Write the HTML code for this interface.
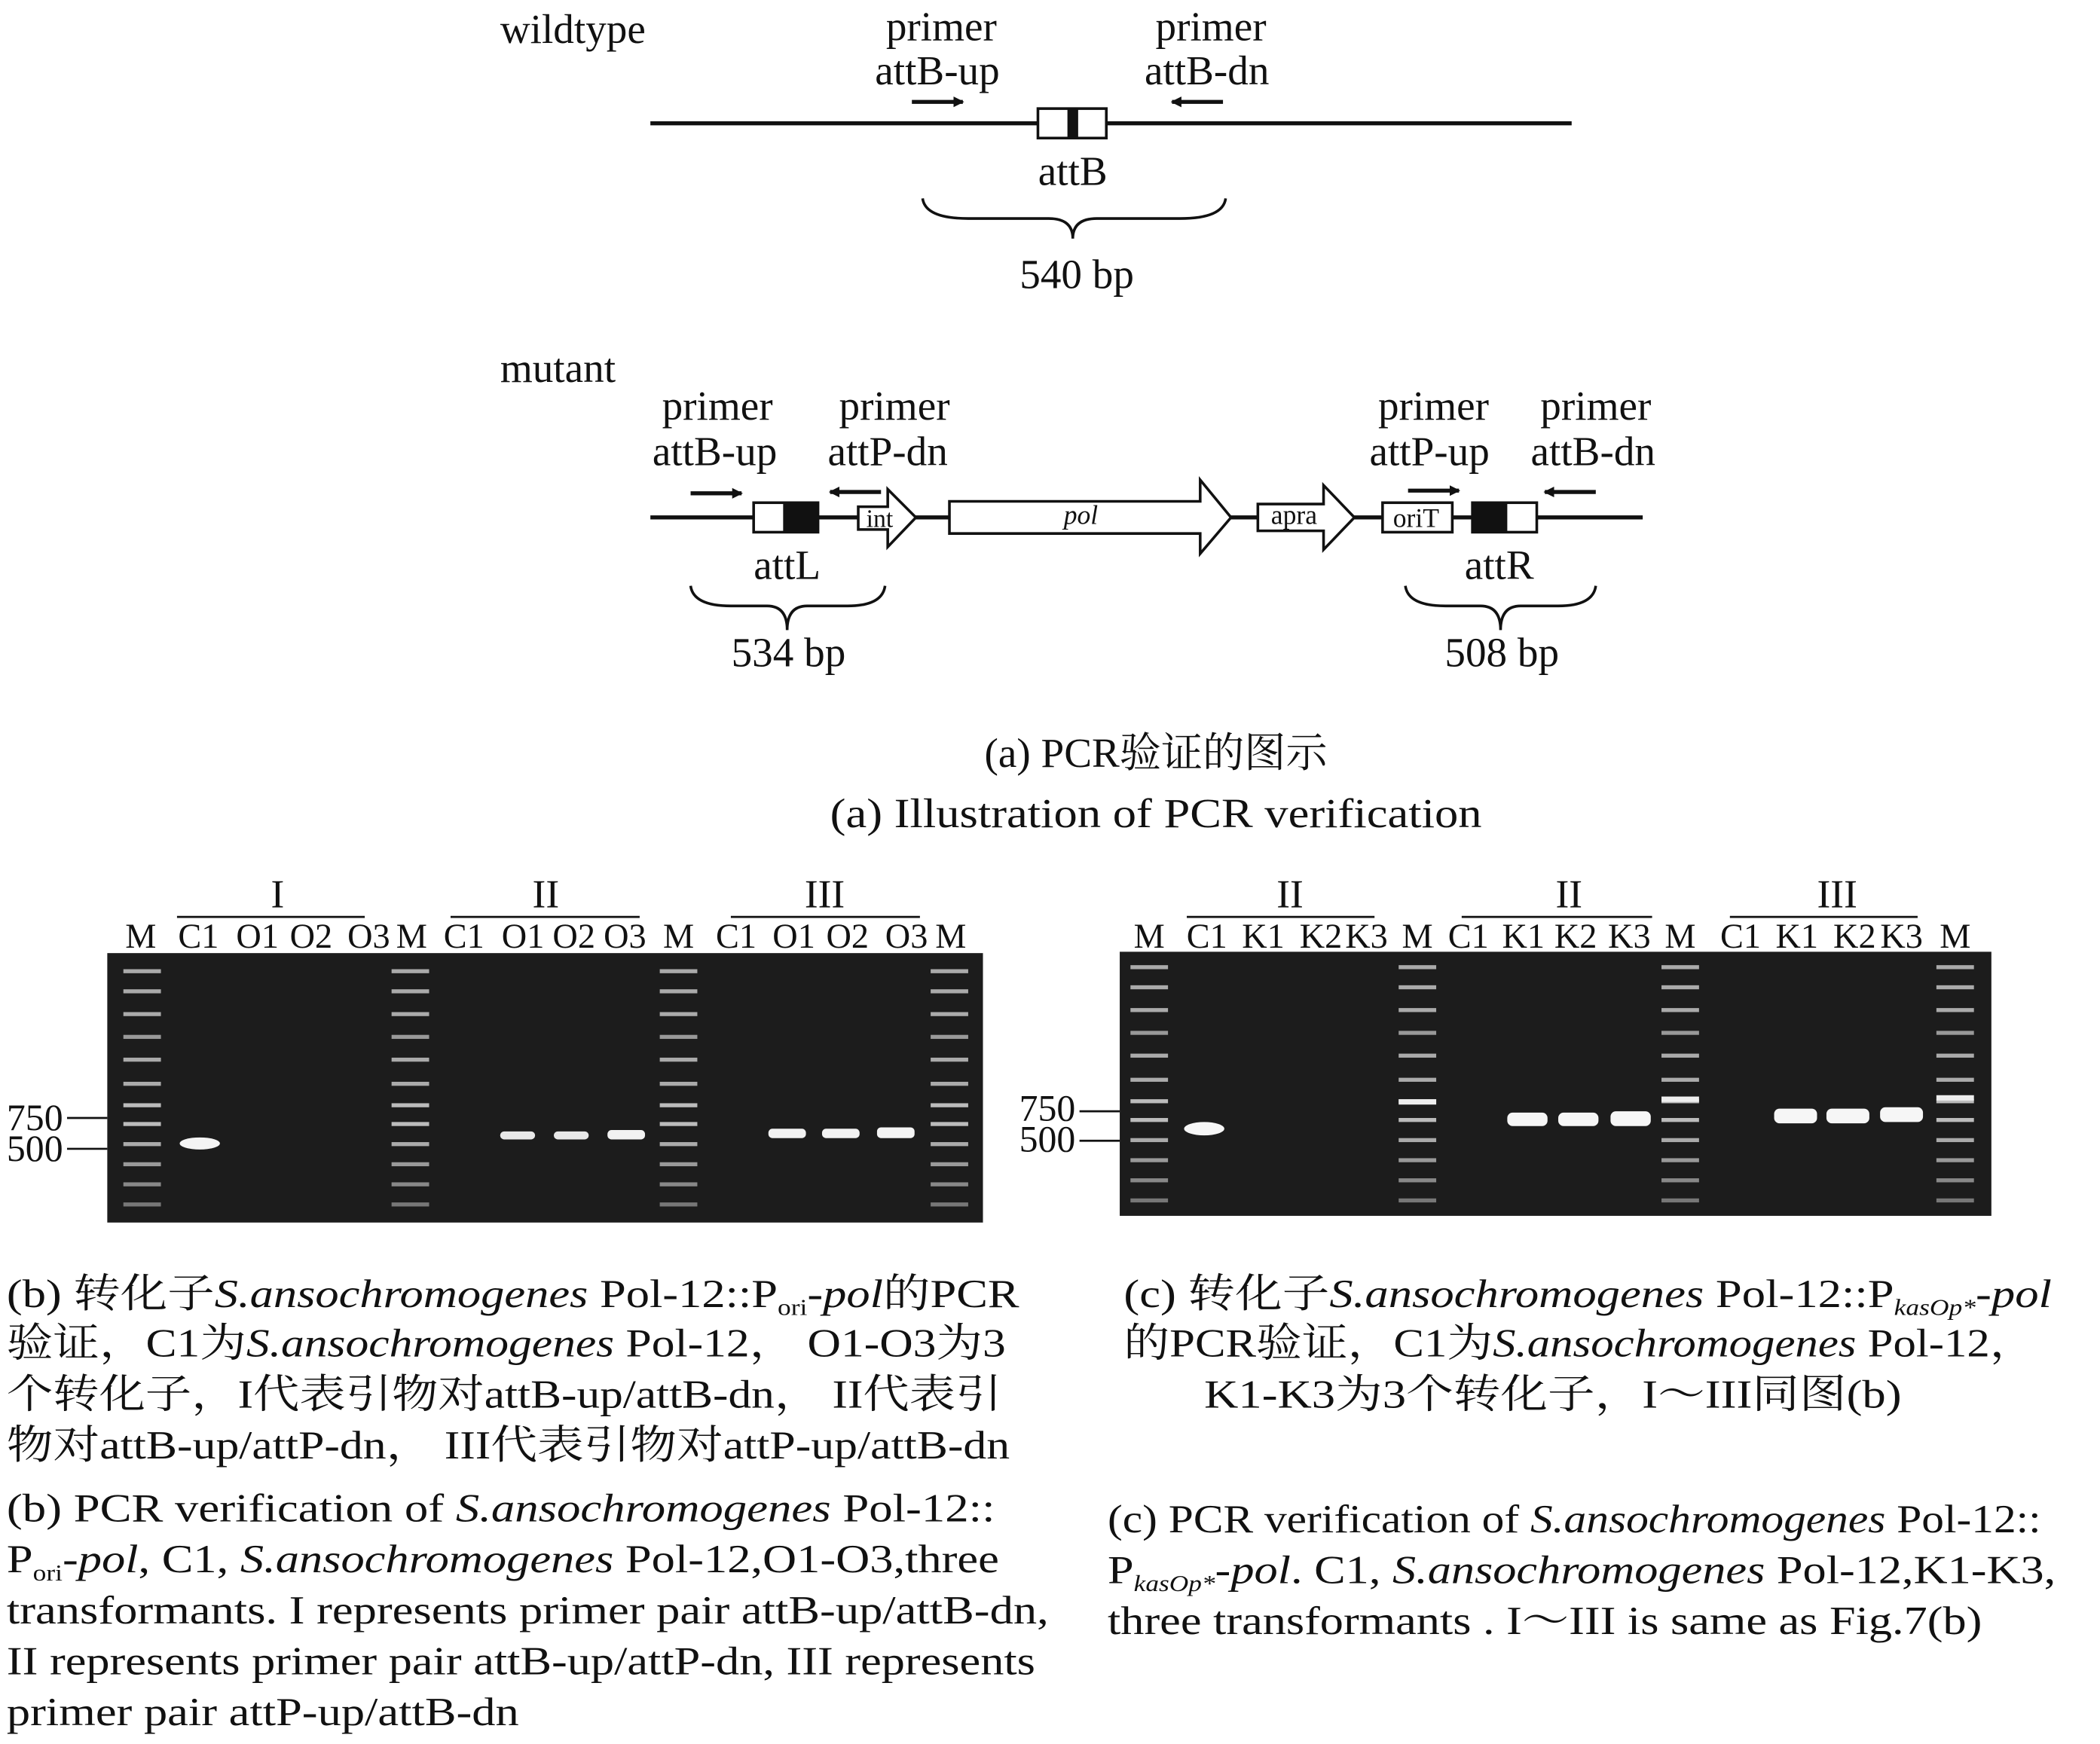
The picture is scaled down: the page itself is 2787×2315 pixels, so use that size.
<!DOCTYPE html>
<html><head><meta charset="utf-8"><style>
html,body{margin:0;padding:0;background:#fff;}
svg{display:block;}
text{font-family:"Liberation Serif","Noto Serif CJK SC","Noto Sans CJK SC",serif;fill:#111;}
</style></head><body>
<svg width="2787" height="2315" viewBox="0 0 1566 1301" preserveAspectRatio="none" xmlns="http://www.w3.org/2000/svg">
<defs>
<g id="lad">
<rect x="-14" y="12" width="28" height="3" fill="#aaa"/>
<rect x="-14" y="27" width="28" height="3" fill="#aaa"/>
<rect x="-14" y="44" width="28" height="3" fill="#aaa"/>
<rect x="-14" y="61" width="28" height="3" fill="#999"/>
<rect x="-14" y="78" width="28" height="3" fill="#aaa"/>
<rect x="-14" y="96" width="28" height="3" fill="#aaa"/>
<rect x="-14" y="112" width="28" height="3" fill="#bbb"/>
<rect x="-14" y="126" width="28" height="3" fill="#bbb"/>
<rect x="-14" y="141" width="28" height="3" fill="#aaa"/>
<rect x="-14" y="156" width="28" height="3" fill="#999"/>
<rect x="-14" y="171" width="28" height="3" fill="#888"/>
<rect x="-14" y="186" width="28" height="3" fill="#777"/>
</g>
<marker id="ah" markerWidth="8" markerHeight="8" refX="7" refY="4" orient="auto" markerUnits="userSpaceOnUse"><path d="M0,0 L8,4 L0,8 z" fill="#111"/></marker>
</defs>
<g font-size="31">
<text x="373" y="32">wildtype</text>
<text x="702" y="30" text-anchor="middle">primer</text>
<text x="699" y="63" text-anchor="middle">attB-up</text>
<text x="903" y="30" text-anchor="middle">primer</text>
<text x="900" y="63" text-anchor="middle">attB-dn</text>
</g>
<g stroke="#111" stroke-width="3" fill="none">
<line x1="680" y1="76" x2="718" y2="76" marker-end="url(#ah)"/>
<line x1="912" y1="76" x2="874" y2="76" marker-end="url(#ah)"/>
<line x1="485" y1="92" x2="1172" y2="92"/>
</g>
<rect x="774" y="81" width="51" height="22" fill="#fff" stroke="#111" stroke-width="2"/>
<rect x="796" y="81" width="8" height="22" fill="#111"/>
<text x="800" y="138" font-size="31" text-anchor="middle">attB</text>
<path d="M688,148 Q690,163 722,163 L782,163 Q800,163 800,178 Q800,163 818,163 L880,163 Q912,163 914,148" fill="none" stroke="#111" stroke-width="2"/>
<text x="803" y="215" font-size="31" text-anchor="middle">540 bp</text>

<g font-size="31">
<text x="373" y="285">mutant</text>
<text x="535" y="313" text-anchor="middle">primer</text>
<text x="533" y="347" text-anchor="middle">attB-up</text>
<text x="667" y="313" text-anchor="middle">primer</text>
<text x="662" y="347" text-anchor="middle">attP-dn</text>
<text x="1069" y="313" text-anchor="middle">primer</text>
<text x="1066" y="347" text-anchor="middle">attP-up</text>
<text x="1190" y="313" text-anchor="middle">primer</text>
<text x="1188" y="347" text-anchor="middle">attB-dn</text>
</g>
<g stroke="#111" stroke-width="3" fill="none">
<line x1="515" y1="368" x2="553" y2="368" marker-end="url(#ah)"/>
<line x1="657" y1="367" x2="619" y2="367" marker-end="url(#ah)"/>
<line x1="1050" y1="366" x2="1088" y2="366" marker-end="url(#ah)"/>
<line x1="1190" y1="367" x2="1152" y2="367" marker-end="url(#ah)"/>
<line x1="485" y1="386" x2="1225" y2="386"/>
</g>
<rect x="562" y="375" width="48" height="22" fill="#fff" stroke="#111" stroke-width="2"/>
<rect x="584" y="375" width="26" height="22" fill="#111"/>
<path d="M640,378 L662,378 L662,365 L683,386 L662,408 L662,395 L640,395 z" fill="#fff" stroke="#111" stroke-width="2"/>
<text x="656" y="393" font-size="19" text-anchor="middle">int</text>
<path d="M708,374 L895,374 L895,358 L918,386 L895,413 L895,398 L708,398 z" fill="#fff" stroke="#111" stroke-width="2"/>
<text x="806" y="391" font-size="20" font-style="italic" text-anchor="middle">pol</text>
<path d="M938,376 L987,376 L987,362 L1010,386 L987,410 L987,396 L938,396 z" fill="#fff" stroke="#111" stroke-width="2"/>
<text x="965" y="391" font-size="20" text-anchor="middle">apra</text>
<rect x="1031" y="375" width="52" height="22" fill="#fff" stroke="#111" stroke-width="2"/>
<text x="1056" y="393" font-size="20" text-anchor="middle">oriT</text>
<rect x="1098" y="375" width="48" height="22" fill="#fff" stroke="#111" stroke-width="2"/>
<rect x="1098" y="375" width="26" height="22" fill="#111"/>
<text x="587" y="432" font-size="31" text-anchor="middle">attL</text>
<path d="M515,437 Q517,452 545,452 L572,452 Q587,452 587,470 Q587,452 602,452 L632,452 Q658,452 660,437" fill="none" stroke="#111" stroke-width="2"/>
<text x="588" y="497" font-size="31" text-anchor="middle">534 bp</text>
<text x="1118" y="432" font-size="31" text-anchor="middle">attR</text>
<path d="M1048,437 Q1050,452 1078,452 L1104,452 Q1119,452 1119,470 Q1119,452 1134,452 L1162,452 Q1188,452 1190,437" fill="none" stroke="#111" stroke-width="2"/>
<text x="1120" y="497" font-size="31" text-anchor="middle">508 bp</text>

<text x="862" y="572" font-size="31" text-anchor="middle">(a) PCR验证的图示</text>
<text x="862" y="617" font-size="31" text-anchor="middle" textLength="486" lengthAdjust="spacingAndGlyphs">(a) Illustration of PCR verification</text>

<g font-size="30" text-anchor="middle">
<text x="207" y="677">I</text><text x="407" y="677">II</text><text x="615" y="677">III</text>
<text x="962" y="677">II</text><text x="1170" y="677">II</text><text x="1370" y="677">III</text>
</g>
<g stroke="#111" stroke-width="1.5">
<line x1="132" y1="684" x2="272" y2="684"/><line x1="336" y1="684" x2="477" y2="684"/><line x1="545" y1="684" x2="686" y2="684"/>
<line x1="885" y1="684" x2="1025" y2="684"/><line x1="1090" y1="684" x2="1232" y2="684"/><line x1="1290" y1="684" x2="1430" y2="684"/>
</g>
<g font-size="26" text-anchor="middle">
<text x="105" y="707">M</text><text x="148" y="707">C1</text><text x="192" y="707">O1</text><text x="232" y="707">O2</text><text x="275" y="707">O3</text>
<text x="307" y="707">M</text><text x="346" y="707">C1</text><text x="390" y="707">O1</text><text x="428" y="707">O2</text><text x="466" y="707">O3</text>
<text x="506" y="707">M</text><text x="549" y="707">C1</text><text x="592" y="707">O1</text><text x="632" y="707">O2</text><text x="676" y="707">O3</text><text x="709" y="707">M</text>
<text x="857" y="707">M</text><text x="900" y="707">C1</text><text x="942" y="707">K1</text><text x="985" y="707">K2</text><text x="1019" y="707">K3</text>
<text x="1057" y="707">M</text><text x="1095" y="707">C1</text><text x="1136" y="707">K1</text><text x="1175" y="707">K2</text><text x="1215" y="707">K3</text>
<text x="1253" y="707">M</text><text x="1298" y="707">C1</text><text x="1340" y="707">K1</text><text x="1383" y="707">K2</text><text x="1418" y="707">K3</text><text x="1458" y="707">M</text>
</g>
<rect x="80" y="711" width="653" height="201" fill="#1c1c1c"/>
<use href="#lad" x="106" y="711"/><use href="#lad" x="306" y="711"/><use href="#lad" x="506" y="711"/><use href="#lad" x="708" y="711"/>
<ellipse cx="149" cy="853" rx="15" ry="4.5" fill="#f4f4f4"/>
<rect x="373" y="844" width="26" height="6" rx="3" fill="#e8e8e8"/><rect x="413" y="844" width="26" height="6" rx="3" fill="#e8e8e8"/><rect x="453" y="843" width="28" height="7" rx="3" fill="#f2f2f2"/>
<rect x="573" y="842" width="28" height="7" rx="3" fill="#f2f2f2"/><rect x="613" y="842" width="28" height="7" rx="3" fill="#f2f2f2"/><rect x="654" y="841" width="28" height="8" rx="3" fill="#f4f4f4"/>
<rect x="835" y="710" width="650" height="197" fill="#1c1c1c"/>
<use href="#lad" x="857" y="708"/><use href="#lad" x="1057" y="708"/><use href="#lad" x="1253" y="708"/><use href="#lad" x="1458" y="708"/>
<rect x="1043" y="820" width="28" height="4" fill="#eee"/><rect x="1239" y="818" width="28" height="4" fill="#eee"/><rect x="1444" y="817" width="28" height="4" fill="#eee"/>
<ellipse cx="898" cy="842" rx="15" ry="5" fill="#f6f6f6"/>
<rect x="1124" y="830" width="30" height="10" rx="4" fill="#f6f6f6"/><rect x="1162" y="830" width="30" height="10" rx="4" fill="#f6f6f6"/><rect x="1201" y="829" width="30" height="11" rx="4" fill="#f6f6f6"/>
<rect x="1323" y="827" width="32" height="11" rx="4" fill="#f6f6f6"/><rect x="1362" y="827" width="32" height="11" rx="4" fill="#f6f6f6"/><rect x="1402" y="826" width="32" height="11" rx="4" fill="#f6f6f6"/>
<g font-size="28">
<text x="5" y="843">750</text><text x="5" y="866">500</text>
<text x="760" y="836">750</text><text x="760" y="859">500</text>
</g>
<g stroke="#111" stroke-width="1.5">
<line x1="50" y1="834" x2="80" y2="834"/><line x1="50" y1="857" x2="80" y2="857"/>
<line x1="805" y1="829" x2="835" y2="829"/><line x1="805" y1="851" x2="835" y2="851"/>
</g>
<g font-size="30">
<text x="5" y="975" textLength="755" lengthAdjust="spacingAndGlyphs">(b) 转化子<tspan font-style="italic">S.ansochromogenes</tspan> Pol-12::P<tspan font-size="17" dy="6">ori</tspan><tspan dy="-6">-</tspan><tspan font-style="italic">pol</tspan>的PCR</text>
<text x="5" y="1012" textLength="745" lengthAdjust="spacingAndGlyphs">验证，C1为<tspan font-style="italic">S.ansochromogenes</tspan> Pol-12， O1-O3为3</text>
<text x="5" y="1050" textLength="742" lengthAdjust="spacingAndGlyphs">个转化子，I代表引物对attB-up/attB-dn， II代表引</text>
<text x="5" y="1088" textLength="748" lengthAdjust="spacingAndGlyphs">物对attB-up/attP-dn， III代表引物对attP-up/attB-dn</text>
<text x="5" y="1135" textLength="737" lengthAdjust="spacingAndGlyphs">(b) PCR verification of <tspan font-style="italic">S.ansochromogenes</tspan> Pol-12::</text>
<text x="5" y="1173" textLength="740" lengthAdjust="spacingAndGlyphs">P<tspan font-size="17" dy="6">ori</tspan><tspan dy="-6">-</tspan><tspan font-style="italic">pol</tspan>, C1, <tspan font-style="italic">S.ansochromogenes</tspan> Pol-12,O1-O3,three</text>
<text x="5" y="1211" textLength="777" lengthAdjust="spacingAndGlyphs">transformants. I represents primer pair attB-up/attB-dn,</text>
<text x="5" y="1249" textLength="767" lengthAdjust="spacingAndGlyphs">II represents primer pair attB-up/attP-dn, III represents</text>
<text x="5" y="1287" textLength="382" lengthAdjust="spacingAndGlyphs">primer pair attP-up/attB-dn</text>
<text x="838" y="975" textLength="692" lengthAdjust="spacingAndGlyphs">(c) 转化子<tspan font-style="italic">S.ansochromogenes</tspan> Pol-12::P<tspan font-size="17" font-style="italic" dy="6">kasOp*</tspan><tspan dy="-6">-</tspan><tspan font-style="italic">pol</tspan></text>
<text x="838" y="1012" textLength="680" lengthAdjust="spacingAndGlyphs">的PCR验证，C1为<tspan font-style="italic">S.ansochromogenes</tspan> Pol-12，</text>
<text x="898" y="1050" textLength="520" lengthAdjust="spacingAndGlyphs">K1-K3为3个转化子，I～III同图(b)</text>
<text x="826" y="1143" textLength="696" lengthAdjust="spacingAndGlyphs">(c) PCR verification of <tspan font-style="italic">S.ansochromogenes</tspan> Pol-12::</text>
<text x="826" y="1181" textLength="707" lengthAdjust="spacingAndGlyphs">P<tspan font-size="17" font-style="italic" dy="6">kasOp*</tspan><tspan dy="-6">-</tspan><tspan font-style="italic">pol</tspan>. C1, <tspan font-style="italic">S.ansochromogenes</tspan> Pol-12,K1-K3,</text>
<text x="826" y="1219" textLength="652" lengthAdjust="spacingAndGlyphs">three transformants . I～III is same as Fig.7(b)</text>
</g>
</svg>
</body></html>
